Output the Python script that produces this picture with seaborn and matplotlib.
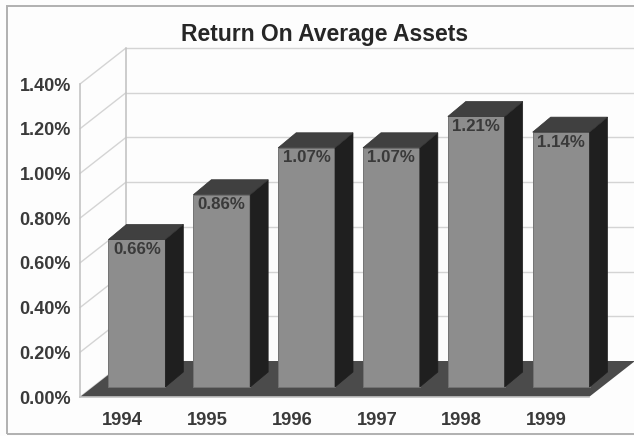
import matplotlib
matplotlib.use("Agg")
import matplotlib.pyplot as plt
from matplotlib.patches import Polygon, Rectangle
import numpy as np
import pandas as pd
import seaborn as sns

years = ["1994", "1995", "1996", "1997", "1998", "1999"]
returns = [0.66, 0.86, 1.07, 1.07, 1.21, 1.14]
y_ticks = [0.0, 0.2, 0.4, 0.6, 0.8, 1.0, 1.2, 1.4]
title = "Return On Average Assets"

sns.set_theme(style="white")
plt.rcParams["font.family"] = ["Liberation Sans", "DejaVu Sans"]

W, H = 634, 436
fig = plt.figure(figsize=(W / 100, H / 100), dpi=100, facecolor="#fdfdfd")
ax = fig.add_axes([80 / W, (H - 397) / H, (589 - 80) / W, (397 - 84) / H])
ax.patch.set_alpha(0)

df = pd.DataFrame({"year": years, "value": returns})
sns.barplot(data=df, x="year", y="value", color="#8d8d8d", saturation=1,
            width=0.67, ax=ax, zorder=5, edgecolor="#737373", linewidth=0.7)
ax.set_xlim(-0.5, 5.5)
ax.set_ylim(0, 1.4)

# pixel -> data scale, for the oblique depth effect
px_x = 6 / (589 - 80)
px_y = 1.4 / (397 - 84)
DX, DY = 46 * px_x, 36 * px_y          # full floor depth
BX, BY = 14.5 * px_x, 10 * px_y        # front face of bars, from the front edge
SX, SY = 18 * px_x, 15 * px_y          # bar depth

GRID = "#d4d4d4"
x0, x1 = ax.get_xlim()
top = y_ticks[-1]

# back wall and side-wall gridlines
for v in y_ticks:
    if v > 0:
        ax.plot([x0 + DX, x1 + DX], [v + DY, v + DY], color=GRID, lw=1.0, clip_on=False, zorder=1)
    ax.plot([x0, x0 + DX], [v, v + DY], color=GRID, lw=1.0, clip_on=False, zorder=1)
ax.plot([x0 + DX, x0 + DX], [DY, top + DY], color="#c4c4c4", lw=1.2, clip_on=False, zorder=1)
ax.plot([x1 + DX, x1 + DX], [DY, top + DY], color=GRID, lw=1.0, clip_on=False, zorder=1)

# floor
ax.add_patch(Polygon([(x0, 0), (x1, 0), (x1 + DX, DY), (x0 + DX, DY)], closed=True,
                     facecolor="#4b4b4b", edgecolor="none", clip_on=False, zorder=2))

# bars: front face shifted onto the floor, then side and top faces
for i, (p, v) in enumerate(zip(ax.patches, returns)):
    p.set_x(p.get_x() + BX)
    p.set_y(BY)
    p.set_clip_on(False)
    p.set_zorder(6 + i)
    l, w = p.get_x(), p.get_width()
    r = l + w
    b, t = BY, BY + v
    ax.add_patch(Polygon([(r, b), (r + SX, b + SY), (r + SX, t + SY), (r, t)], closed=True,
                         facecolor="#1f1f1f", edgecolor="#1f1f1f", lw=0.5, clip_on=False, zorder=6 + i))
    ax.add_patch(Polygon([(l, t), (l + SX, t + SY), (r + SX, t + SY), (r, t)], closed=True,
                         facecolor="#404040", edgecolor="#333333", lw=0.5, clip_on=False, zorder=6 + i))
    ax.text(l + w / 2, t - 10 * px_y, f"{v:.2f}%", ha="center", va="center",
            fontsize=12.2, fontweight="bold", color="#3a3a3a", zorder=20, clip_on=False)

# axes styling
ax.set_yticks(y_ticks)
ax.set_yticklabels([f"{v:.2f}%" for v in y_ticks], fontsize=13, fontweight="bold", color="#3a3a3a")
ax.set_xlabel("")
ax.set_ylabel("")
ax.tick_params(axis="y", length=0, pad=6.5)
ax.tick_params(axis="x", length=0, pad=10.5)
for lab in ax.get_xticklabels():
    lab.set_fontsize(13.2)
    lab.set_fontweight("bold")
    lab.set_color("#3a3a3a")
ax.set_xticks(np.arange(0.5, 5.6, 1), minor=True)
ax.tick_params(axis="x", which="minor", length=2.5, width=0.8, color=GRID)
for side in ("top", "right"):
    ax.spines[side].set_visible(False)
for side in ("left", "bottom"):
    ax.spines[side].set_color("#c4c4c4")
    ax.spines[side].set_linewidth(1.2)

fig.text(324.5 / W, (H - 34) / H, title, ha="center", va="center",
         fontsize=16.5, fontweight="bold", color="#262626")

# outer frame, open at the right edge of the picture
fig.add_artist(Rectangle((7 / W, (H - 434) / H), 640 / W, 428 / H, transform=fig.transFigure,
                         fill=False, edgecolor="#b0b0b0", linewidth=1.4))

fig.savefig("out.png", dpi=100, facecolor=fig.get_facecolor())
